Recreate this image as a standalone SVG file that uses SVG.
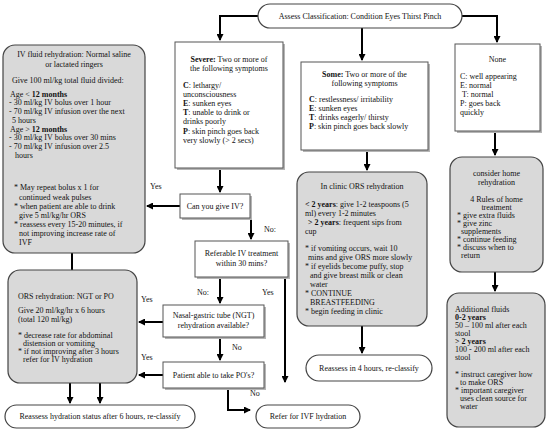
<svg xmlns="http://www.w3.org/2000/svg" width="553" height="435" viewBox="0 0 553 435">
<style>
.t{font-family:"Liberation Serif","Times New Roman",serif;font-size:8px;fill:#111}
.c{text-anchor:middle}
.b{font-weight:bold}
.box{fill:#fff;stroke:#555;stroke-width:1}
.sh{fill:#b5b5b5}
.gbox{fill:#d9d9d9;stroke:#444;stroke-width:1.2}
.pill{fill:#fff;stroke:#444;stroke-width:1.2}
.conn{stroke:#000;stroke-width:2;fill:none}
</style>
<defs>
<marker id="ah" markerUnits="userSpaceOnUse" markerWidth="7" markerHeight="7" refX="6" refY="3.5" orient="auto">
<path d="M0,0 L7,3.5 L0,7 z" fill="#000"/>
</marker>
</defs>
<rect width="553" height="435" fill="#fff"/>

<g id="connectors">
<path class="conn" d="M258,16 H220 V40" marker-end="url(#ah)"/>
<path class="conn" d="M362,28 V60" marker-end="url(#ah)"/>
<path class="conn" d="M462,16 H497 V42" marker-end="url(#ah)"/>
<path class="conn" d="M220,168 V192" marker-end="url(#ah)"/>
<path class="conn" d="M180,206 H147" marker-end="url(#ah)"/>
<path class="conn" d="M251,218 V239" marker-end="url(#ah)"/>
<path class="conn" d="M220,277 V303" marker-end="url(#ah)"/>
<path class="conn" d="M285,277 V382" marker-end="url(#ah)"/>
<path class="conn" d="M163,322 H139" marker-end="url(#ah)"/>
<path class="conn" d="M220,337 V360" marker-end="url(#ah)"/>
<path class="conn" d="M163,375 H139" marker-end="url(#ah)"/>
<path class="conn" d="M228,388 V410 H250" marker-end="url(#ah)"/>
<path class="conn" d="M72,253 V270"/>
<path class="conn" d="M70,383 V403" marker-end="url(#ah)"/>
<path class="conn" d="M100,383 V403" marker-end="url(#ah)"/>
<path class="conn" d="M367,150 V170" marker-end="url(#ah)"/>
<path class="conn" d="M362,326 V353" marker-end="url(#ah)"/>
<path class="conn" d="M495,131 V155" marker-end="url(#ah)"/>
<path class="conn" d="M495,272 V291" marker-end="url(#ah)"/>
<text class="t" x="150" y="189">Yes</text>
<text class="t" x="264" y="232">No:</text>
<text class="t" x="197" y="295">No:</text>
<text class="t" x="262" y="295">Yes</text>
<text class="t" x="141" y="302">Yes</text>
<text class="t" x="232" y="350">No</text>
<text class="t" x="141" y="360">Yes</text>
<text class="t" x="250" y="396">No</text>
</g>

<g id="assess">
<rect class="pill" x="258" y="4" width="204" height="24" rx="12"/>
<text class="t c" x="360" y="19">Assess Classification: Condition  Eyes  Thirst  Pinch</text>
</g>

<g id="severe">
<rect class="sh" x="177" y="44" width="108" height="126"/>
<rect class="box" x="175" y="42" width="108" height="126"/>
<text class="t c" x="229" y="62"><tspan class="b">Severe:</tspan> Two or more of</text>
<text class="t c" x="229" y="71">the following symptoms</text>
<text class="t" x="183" y="88"><tspan class="b">C</tspan>: lethargy/</text>
<text class="t" x="183" y="97">unconsciousness</text>
<text class="t" x="183" y="106"><tspan class="b">E</tspan>: sunken eyes</text>
<text class="t" x="183" y="115"><tspan class="b">T</tspan>: unable to drink or</text>
<text class="t" x="183" y="124">drinks poorly</text>
<text class="t" x="183" y="134"><tspan class="b">P</tspan>: skin pinch goes back</text>
<text class="t" x="183" y="143">very slowly (&gt; 2 secs)</text>
</g>

<g id="some">
<rect class="sh" x="303" y="64" width="127" height="88"/>
<rect class="box" x="301" y="62" width="127" height="88"/>
<text class="t c" x="364.5" y="77"><tspan class="b">Some:</tspan> Two or more of the</text>
<text class="t c" x="364.5" y="86">following symptoms</text>
<text class="t" x="309" y="102"><tspan class="b">C</tspan>: restlessness/ irritability</text>
<text class="t" x="309" y="111"><tspan class="b">E</tspan>: sunken eyes</text>
<text class="t" x="309" y="120"><tspan class="b">T</tspan>: drinks eagerly/ thirsty</text>
<text class="t" x="309" y="129"><tspan class="b">P</tspan>: skin pinch goes back slowly</text>
</g>

<g id="none">
<rect class="sh" x="457" y="46" width="85" height="87"/>
<rect class="box" x="455" y="44" width="85" height="87"/>
<text class="t c" x="497.5" y="62">None</text>
<text class="t" x="460" y="79">C: well appearing</text>
<text class="t" x="460" y="88">E: normal</text>
<text class="t" x="462" y="97">T: normal</text>
<text class="t" x="460" y="106">P: goes back</text>
<text class="t" x="460" y="115">quickly</text>
</g>

<g id="iv-fluid">
<rect class="gbox" x="3" y="45" width="142" height="208" rx="12"/>
<text class="t c" x="74" y="57">IV fluid rehydration: Normal saline</text>
<text class="t c" x="74" y="67">or lactated ringers</text>
<text class="t" x="12" y="83">Give 100 ml/kg total fluid divided:</text>
<text class="t" x="10" y="97">Age &lt; <tspan class="b">12 months</tspan></text>
<text class="t" x="9" y="105">- 30 ml/kg IV bolus over 1 hour</text>
<text class="t" x="9" y="114">- 70 ml/kg IV infusion over the next</text>
<text class="t" x="12" y="123">5 hours</text>
<text class="t" x="10" y="132">Age &gt; <tspan class="b">12 months</tspan></text>
<text class="t" x="9" y="140">- 30 ml/kg IV bolus over 30 mins</text>
<text class="t" x="9" y="149">- 70 ml/kg IV infusion over 2.5</text>
<text class="t" x="15" y="158">hours</text>
<text class="t" x="14" y="190">* May repeat bolus x 1 for</text>
<text class="t" x="19" y="200">continued weak pulses</text>
<text class="t" x="14" y="209">* when patient are able to drink</text>
<text class="t" x="19" y="218">give 5 ml/kg/hr ORS</text>
<text class="t" x="14" y="227">* reassess every 15-20 minutes, if</text>
<text class="t" x="19" y="236">not improving increase rate of</text>
<text class="t" x="19" y="245">IVF</text>
</g>

<g id="can-give-iv">
<rect class="sh" x="182" y="196" width="70" height="24"/>
<rect class="box" x="180" y="194" width="70" height="24"/>
<text class="t c" x="215" y="209">Can you give IV?</text>
</g>

<g id="referable">
<rect class="sh" x="197" y="243" width="93" height="36"/>
<rect class="box" x="195" y="241" width="93" height="36"/>
<text class="t c" x="241.5" y="256">Referable IV treatment</text>
<text class="t c" x="241.5" y="266">within 30 mins?</text>
</g>

<g id="ngt">
<rect class="sh" x="165" y="307" width="101" height="32"/>
<rect class="box" x="163" y="305" width="101" height="32"/>
<text class="t c" x="213.5" y="318">Nasal-gastric tube (NGT)</text>
<text class="t c" x="213.5" y="328">rehydration available?</text>
</g>

<g id="patient-po">
<rect class="sh" x="165" y="364" width="101" height="26"/>
<rect class="box" x="163" y="362" width="101" height="26"/>
<text class="t c" x="213.5" y="378">Patient able to take PO's?</text>
</g>

<g id="ors-rehydration">
<rect class="gbox" x="8" y="270" width="129" height="113" rx="12"/>
<text class="t" x="18" y="299">ORS rehydration: NGT or PO</text>
<text class="t" x="18" y="313">Give 20 ml/kg/hr x 6 hours</text>
<text class="t" x="18" y="322">(total 120 ml/kg)</text>
<text class="t" x="18" y="338">* decrease rate for abdominal</text>
<text class="t" x="23" y="346">distension or vomiting</text>
<text class="t" x="18" y="354">* if not improving after 3 hours</text>
<text class="t" x="23" y="362">refer for IV hydration</text>
</g>

<g id="in-clinic">
<rect class="gbox" x="297" y="172" width="130" height="154" rx="12"/>
<text class="t c" x="362" y="189">In clinic ORS rehydration</text>
<text class="t" x="305" y="207"><tspan class="b">&lt; 2 years</tspan>: give 1-2 teaspoons (5</text>
<text class="t" x="305" y="216">ml) every 1-2 minutes</text>
<text class="t" x="308" y="225"><tspan class="b">&gt; 2 years</tspan>: frequent sips from</text>
<text class="t" x="305" y="234">cup</text>
<text class="t" x="305" y="251">* if vomiting occurs, wait 10</text>
<text class="t" x="308" y="260">mins and give ORS more slowly</text>
<text class="t" x="305" y="269">* if eyelids become puffy, stop</text>
<text class="t" x="310" y="278">and give breast milk or clean</text>
<text class="t" x="310" y="287">water</text>
<text class="t" x="305" y="296">* CONTINUE</text>
<text class="t" x="310" y="305">BREASTFEEDING</text>
<text class="t" x="305" y="314">* begin feeding in clinic</text>
</g>

<g id="reassess-4h">
<rect class="pill" x="306" y="355" width="126" height="26" rx="13"/>
<text class="t c" x="369" y="371">Reassess in 4 hours, re-classify</text>
</g>

<g id="home">
<rect class="gbox" x="450" y="157" width="93" height="115" rx="12"/>
<text class="t c" x="496.5" y="176">consider home</text>
<text class="t c" x="496.5" y="185">rehydration</text>
<text class="t c" x="496.5" y="202">4 Rules of home</text>
<text class="t c" x="496.5" y="210">treatment</text>
<text class="t" x="457" y="218">* give extra fluids</text>
<text class="t" x="457" y="226">* give zinc</text>
<text class="t" x="461" y="234">supplements</text>
<text class="t" x="457" y="242">*  continue feeding</text>
<text class="t" x="457" y="250">*  discuss when to</text>
<text class="t" x="461" y="258">return</text>
</g>

<g id="additional-fluids">
<rect class="gbox" x="447" y="293" width="98" height="134" rx="12"/>
<text class="t" x="455" y="312">Additional fluids</text>
<text class="t b" x="455" y="320">0-2 years</text>
<text class="t" x="455" y="328">50 – 100 ml after each</text>
<text class="t" x="455" y="336">stool</text>
<text class="t b" x="455" y="344">&gt; 2 years</text>
<text class="t" x="455" y="352">100 - 200 ml  after each</text>
<text class="t" x="455" y="360">stool</text>
<text class="t" x="455" y="377">* instruct caregiver how</text>
<text class="t" x="460" y="385">to make ORS</text>
<text class="t" x="455" y="393">* important caregiver</text>
<text class="t" x="460" y="401">uses clean source for</text>
<text class="t" x="460" y="409">water</text>
</g>

<g id="reassess-hydration">
<rect class="pill" x="5" y="405" width="190" height="23" rx="11.5"/>
<text class="t c" x="100" y="419">Reassess hydration status after 6 hours, re-classify</text>
</g>

<g id="refer-ivf">
<rect class="pill" x="256" y="405" width="104" height="23" rx="11.5"/>
<text class="t c" x="308" y="419">Refer for IVF hydration</text>
</g>
</svg>
